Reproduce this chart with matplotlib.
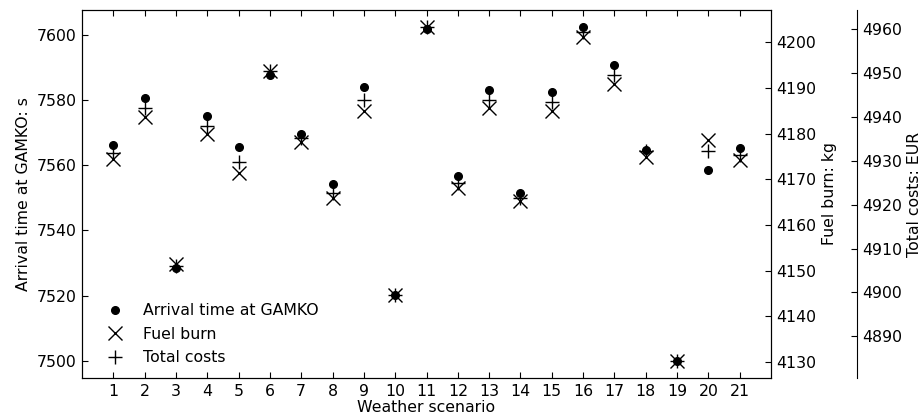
import matplotlib
matplotlib.use('Agg')
import matplotlib.pyplot as plt
from matplotlib.ticker import MultipleLocator

scenarios = list(range(1, 22))

# Arrival time at GAMKO [s]
arrival_time = [7566.3, 7580.7, 7528.4, 7575.0, 7565.6, 7587.6, 7569.5,
                7554.3, 7583.9, 7520.2, 7601.6, 7556.8, 7582.9, 7551.4,
                7582.5, 7602.4, 7590.7, 7564.6, 7499.9, 7558.5, 7565.2]

# Fuel burn [kg]
fuel_burn = [4174.5, 4183.6, 4151.4, 4179.9, 4171.4, 4193.7, 4178.1,
             4166.0, 4184.9, 4144.7, 4203.4, 4168.2, 4185.6, 4165.2,
             4184.9, 4201.1, 4190.9, 4175.0, 4130.2, 4178.7, 4174.2]

# Total costs [EUR]
total_costs = [4931.8, 4942.0, 4906.0, 4938.0, 4929.7, 4950.4, 4935.2,
               4922.7, 4943.9, 4899.4, 4960.6, 4925.0, 4943.9, 4921.6,
               4943.4, 4959.3, 4949.6, 4932.2, 4884.3, 4932.2, 4931.4]

plt.rcParams['font.size'] = 11.3
plt.rcParams['font.family'] = 'DejaVu Sans'
plt.rcParams['xtick.direction'] = 'in'
plt.rcParams['ytick.direction'] = 'in'
plt.rcParams['xtick.major.size'] = 4
plt.rcParams['ytick.major.size'] = 4
plt.rcParams['xtick.major.pad'] = 4
plt.rcParams['ytick.major.pad'] = 4
plt.rcParams['xtick.top'] = True

fig = plt.figure(figsize=(9.24, 4.17), dpi=100)
fig.subplots_adjust(left=82 / 924, right=771 / 924, bottom=1 - 378 / 417, top=1 - 10 / 417)

host = fig.add_subplot(111)
par1 = host.twinx()
par2 = host.twinx()

# third axis: only the offset right spine
par2.spines['right'].set_position(('axes', 1.125))
par2.set_frame_on(True)
par2.patch.set_visible(False)
for sp in par2.spines.values():
    sp.set_visible(False)
par2.spines['right'].set_visible(True)

p1, = host.plot(scenarios, arrival_time, 'o', color='k', markersize=5.5,
                label='Arrival time at GAMKO')
p2, = par1.plot(scenarios, fuel_burn, 'x', color='k', markersize=10,
                markeredgewidth=1, label='Fuel burn')
p3, = par2.plot(scenarios, total_costs, '+', color='k', markersize=10,
                markeredgewidth=1, label='Total costs')

host.set_xlim(0, 22)
host.set_xticks(scenarios)
host.yaxis.set_major_locator(MultipleLocator(20))
par1.yaxis.set_major_locator(MultipleLocator(10))
par2.yaxis.set_major_locator(MultipleLocator(10))

host.set_xlabel('Weather scenario', labelpad=1)
host.set_ylabel('Arrival time at GAMKO: s')
par1.set_ylabel('Fuel burn: kg')
par2.set_ylabel('Total costs: EUR', labelpad=3)

host.legend([p1, p2, p3], [p.get_label() for p in [p1, p2, p3]],
            loc='lower left', frameon=False, numpoints=1,
            labelspacing=0.55, borderaxespad=0.4,
            bbox_to_anchor=(0.007, 0.0))

fig.savefig('out.png', dpi=100)
